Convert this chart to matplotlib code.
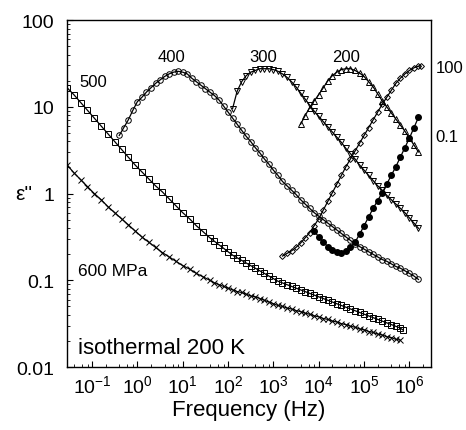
"""Dielectric loss vs frequency at several pressures (isothermal 200 K)."""

import numpy as np
import matplotlib
matplotlib.use('Agg')
import matplotlib.pyplot as plt
from matplotlib.ticker import FixedLocator, LogLocator, NullFormatter

plt.rcParams['font.family'] = ['Liberation Sans', 'DejaVu Sans']
plt.rcParams['mathtext.fontset'] = 'custom'
plt.rcParams['mathtext.rm'] = 'Liberation Sans'
plt.rcParams['mathtext.default'] = 'regular'

# log10(frequency / Hz) and log10(eps'')
logf_600 = [-1.55, -1.4, -1.25, -1.1, -0.95, -0.8, -0.65, -0.5, -0.35, -0.2,
            -0.05, 0.1, 0.25, 0.4, 0.55, 0.7, 0.85, 1.0, 1.15, 1.3, 1.45, 1.6,
            1.7, 1.8, 1.9, 2.0, 2.1, 2.2, 2.3, 2.4, 2.5, 2.6, 2.7, 2.8, 2.9,
            3.0, 3.1, 3.2, 3.3, 3.4, 3.5, 3.6, 3.7, 3.8, 3.9, 4.0, 4.1, 4.2,
            4.3, 4.4, 4.5, 4.6, 4.7, 4.8, 4.9, 5.0, 5.1, 5.2, 5.3, 5.4, 5.5,
            5.6, 5.7, 5.8]
loge_600 = [0.33, 0.24, 0.16, 0.08, 0.00, -0.07, -0.15, -0.22, -0.29, -0.36,
            -0.43, -0.50, -0.56, -0.62, -0.68, -0.73, -0.78, -0.83, -0.87,
            -0.92, -0.96, -1.00,
            -1.03, -1.05, -1.07, -1.09, -1.11, -1.13, -1.14, -1.16, -1.18,
            -1.19, -1.21, -1.23, -1.25, -1.27, -1.29, -1.30, -1.32, -1.33,
            -1.35, -1.36, -1.38, -1.39, -1.41, -1.42, -1.44, -1.45, -1.47,
            -1.48, -1.50, -1.51, -1.53, -1.54, -1.56, -1.57, -1.59, -1.60,
            -1.62, -1.63, -1.65, -1.66, -1.68, -1.69]

logf_500 = [-1.55, -1.4, -1.25, -1.1, -0.95, -0.8, -0.65, -0.5, -0.35, -0.2,
            -0.05, 0.1, 0.25, 0.4, 0.55, 0.7, 0.85, 1.0, 1.15, 1.3, 1.45, 1.6,
            1.7, 1.8, 1.9, 2.0, 2.1, 2.2, 2.3, 2.4, 2.5, 2.6, 2.7, 2.8, 2.9,
            3.0, 3.1, 3.2, 3.3, 3.4, 3.5, 3.6, 3.7, 3.8, 3.9, 4.0, 4.1, 4.2,
            4.3, 4.4, 4.5, 4.6, 4.7, 4.8, 4.9, 5.0, 5.1, 5.2, 5.3, 5.4, 5.5,
            5.6, 5.7, 5.8, 5.85]
loge_500 = [1.22, 1.14, 1.05, 0.96, 0.87, 0.78, 0.69, 0.60, 0.51, 0.42, 0.33,
            0.25, 0.17, 0.09, 0.02, -0.06, -0.14, -0.22, -0.29, -0.37, -0.44,
            -0.51,
            -0.55, -0.59, -0.63, -0.67, -0.71, -0.74, -0.77, -0.80, -0.83,
            -0.86, -0.89, -0.92, -0.95, -0.98, -1.01, -1.03, -1.05, -1.07,
            -1.09, -1.11, -1.13, -1.15, -1.17, -1.19, -1.21, -1.23, -1.25,
            -1.27, -1.29, -1.31, -1.33, -1.35, -1.37, -1.39, -1.41, -1.43,
            -1.45, -1.47, -1.49, -1.51, -1.53, -1.55, -1.57]

logf_400 = [-0.4, -0.3, -0.2, -0.1, 0.0, 0.1, 0.2, 0.3, 0.4, 0.5, 0.6, 0.7,
            0.8, 0.9, 1.0, 1.1, 1.2, 1.3, 1.4, 1.5, 1.6, 1.7, 1.8, 1.9, 2.0,
            2.1, 2.2, 2.3, 2.4, 2.5, 2.6, 2.7, 2.8, 2.9, 3.0, 3.1, 3.2, 3.3,
            3.4, 3.5, 3.6, 3.7, 3.8, 3.9, 4.0, 4.1, 4.2, 4.3, 4.4, 4.5, 4.6,
            4.7, 4.8, 4.9, 5.0, 5.1, 5.2, 5.3, 5.4, 5.5, 5.6, 5.7, 5.8, 5.9,
            6.0, 6.1, 6.2]
loge_400 = [0.67, 0.76, 0.85, 0.96, 1.06, 1.11, 1.17, 1.22, 1.27, 1.31, 1.35,
            1.38, 1.40, 1.41, 1.40, 1.38, 1.33, 1.29, 1.25, 1.21, 1.17, 1.13,
            1.08, 1.01, 0.94, 0.87, 0.80, 0.73, 0.66, 0.60, 0.53, 0.47, 0.40,
            0.34, 0.27, 0.21, 0.14, 0.09, 0.04, -0.01, -0.07, -0.12, -0.17,
            -0.22, -0.26, -0.30, -0.34, -0.38, -0.42, -0.46, -0.50, -0.54,
            -0.58, -0.61, -0.64, -0.67, -0.70, -0.73, -0.76, -0.78, -0.81,
            -0.84, -0.86, -0.89, -0.92, -0.95, -0.99]

logf_300 = [2.1, 2.2, 2.3, 2.4, 2.5, 2.6, 2.7, 2.8, 2.9, 3.0, 3.1, 3.2, 3.3,
            3.4, 3.5, 3.6, 3.7, 3.8, 3.9, 4.0, 4.1, 4.2, 4.3, 4.4, 4.5, 4.6,
            4.7, 4.8, 4.9, 5.0, 5.1, 5.2, 5.3, 5.4, 5.5, 5.6, 5.7, 5.8, 5.9,
            6.0, 6.1, 6.2]
loge_300 = [0.98, 1.18, 1.29, 1.36, 1.40, 1.42, 1.44, 1.44, 1.44, 1.43, 1.41,
            1.38, 1.34, 1.29, 1.23, 1.16, 1.09, 1.02, 0.95, 0.89, 0.83, 0.77,
            0.71, 0.65, 0.59, 0.52, 0.46, 0.40, 0.33, 0.27, 0.21, 0.15, 0.09,
            0.04, -0.02, -0.07, -0.12, -0.17, -0.22, -0.28, -0.34, -0.40]

logf_200 = [3.6, 3.7, 3.8, 3.9, 4.0, 4.1, 4.2, 4.3, 4.4, 4.5, 4.6, 4.7, 4.8,
            4.9, 5.0, 5.1, 5.2, 5.3, 5.4, 5.5, 5.6, 5.7, 5.8, 5.9, 6.0, 6.1,
            6.2]
loge_200 = [0.80, 0.90, 0.99, 1.07, 1.14, 1.22, 1.30, 1.36, 1.40, 1.43, 1.44,
            1.44, 1.42, 1.39, 1.35, 1.29, 1.23, 1.15, 1.07, 1.00, 0.93, 0.86,
            0.79, 0.72, 0.64, 0.56, 0.48]

logf_100 = [3.2, 3.3, 3.4, 3.5, 3.6, 3.7, 3.8, 3.9, 4.0, 4.1, 4.2, 4.3, 4.4,
            4.5, 4.6, 4.7, 4.8, 4.9, 5.0, 5.1, 5.2, 5.3, 5.4, 5.5, 5.6, 5.7,
            5.8, 5.9, 6.0, 6.1, 6.2, 6.25]
loge_100 = [-0.72, -0.69, -0.66, -0.62, -0.57, -0.51, -0.45, -0.37, -0.29,
            -0.19, -0.09, 0.01, 0.11, 0.21, 0.31, 0.40, 0.49, 0.58, 0.67, 0.76,
            0.85, 0.94, 1.03, 1.11, 1.19, 1.27, 1.33, 1.38, 1.42, 1.45, 1.47,
            1.47]

logf_01 = [3.9, 4.0, 4.1, 4.2, 4.3, 4.4, 4.5, 4.6, 4.7, 4.8, 4.9, 5.0, 5.1,
           5.2, 5.3, 5.4, 5.5, 5.6, 5.7, 5.8, 5.9, 6.0, 6.1, 6.2]
loge_01 = [-0.43, -0.50, -0.56, -0.61, -0.65, -0.67, -0.68, -0.66, -0.62,
           -0.56, -0.47, -0.37, -0.27, -0.17, -0.08, 0.01, 0.11, 0.21, 0.31,
           0.42, 0.53, 0.64, 0.76, 0.88]

xtick_exp = [-1, 0, 1, 2, 3, 4, 5, 6]
ytick_vals = [0.01, 0.1, 1, 10, 100]
ytick_labels = ['0.01', '0.1', '1', '10', '100']

fig = plt.figure(figsize=(4.66, 4.31), dpi=100)
ax = fig.add_axes([0.144, 0.146, 0.781, 0.805])


def draw(logf, loge, **kw):
    ax.plot(10 ** np.array(logf), 10 ** np.array(loge), color='black',
            lw=0.9, mec='black', **kw)


draw(logf_600, loge_600, marker='x', ms=4, mew=0.7)
draw(logf_500, loge_500, marker='s', ms=4.3, mfc='none', mew=0.7)
draw(logf_400, loge_400, marker='o', ms=4, mfc='none', mew=0.7)
draw(logf_300, loge_300, marker='v', ms=4, mfc='none', mew=0.7)
draw(logf_200, loge_200, marker='^', ms=4, mfc='none', mew=0.7)
draw(logf_100, loge_100, marker='D', ms=3, mfc='none', mew=0.7)
draw(logf_01, loge_01, marker='o', ms=4, mfc='black')

ax.set_xscale('log')
ax.set_yscale('log')
ax.set_xlim(0.0282, 3.0e6)
ax.set_ylim(0.01, 100)

ax.xaxis.set_major_locator(FixedLocator([10.0 ** e for e in xtick_exp]))
ax.set_xticklabels(['$10^{%d}$' % e for e in xtick_exp], fontsize=14)
ax.xaxis.set_minor_locator(LogLocator(base=10, subs=(2, 4, 6, 8), numticks=20))
ax.xaxis.set_minor_formatter(NullFormatter())
ax.set_yticks(ytick_vals)
ax.set_yticklabels(ytick_labels, fontsize=14)
ax.yaxis.set_minor_locator(LogLocator(base=10, subs=np.arange(2, 10), numticks=20))
ax.yaxis.set_minor_formatter(NullFormatter())
ax.tick_params(which='both', direction='in', top=False, right=False)
ax.tick_params(which='major', length=4, width=0.8)
ax.tick_params(which='minor', length=2, width=0.6)
ax.tick_params(axis='y', pad=9)
ax.tick_params(axis='x', pad=5)
for s in ax.spines.values():
    s.set_linewidth(1.0)

ax.set_xlabel('Frequency (Hz)', fontsize=16, labelpad=2)
ax.set_ylabel("ε''", fontsize=15, rotation=0, va='center', ha='center')
ax.yaxis.set_label_coords(-0.118, 0.501)

ax.text(0.033, 0.824, '500', transform=ax.transAxes, fontsize=12,
        ha='left', va='center')
for txt, xx in [('400', 0.288), ('300', 0.538), ('200', 0.766)]:
    ax.text(xx, 0.896, txt, transform=ax.transAxes, fontsize=12,
            ha='center', va='center')
ax.text(1.052, 0.862, '100', transform=ax.transAxes, fontsize=12,
        ha='center', va='center', clip_on=False)
ax.text(1.044, 0.666, '0.1', transform=ax.transAxes, fontsize=12,
        ha='center', va='center', clip_on=False)
ax.text(0.030, 0.277, '600 MPa', transform=ax.transAxes, fontsize=12.5,
        ha='left', va='center')
ax.text(0.030, 0.055, 'isothermal 200 K', transform=ax.transAxes,
        fontsize=16, ha='left', va='center')

fig.savefig('out.png', dpi=100)
